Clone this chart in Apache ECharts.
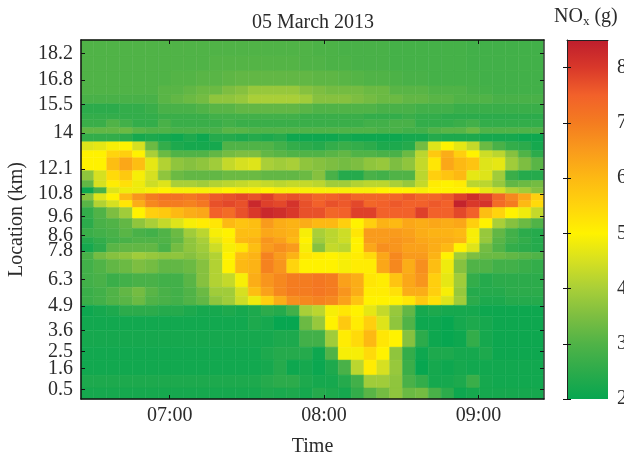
<!DOCTYPE html>
<html><head><meta charset="utf-8">
<style>html,body{margin:0;padding:0;background:#fff}#c{width:624px;height:456px}</style>
<script src="https://cdn.jsdelivr.net/npm/echarts@6/dist/echarts.min.js"></script>
</head><body><div id="c"></div>
<script>
const firstMinute = 385.5, stepMinutes = 5;
const timeTicks = [420, 480, 540];
const locationTicks = [0.5,1.6,2.5,3.6,4.9,6.3,7.8,8.6,9.6,10.8,12.1,14,15.5,16.8,18.2];
const colorTicks = [2,3,4,5,6,7,8];
const colorMin = 2, colorMax = 8.5;
const colorStops = ['#07a650','#2cab4b','#50b347','#7dbe41','#a9cf38','#d6e021','#fff200','#ffd40d','#fdb913','#f99b1c','#f47c20','#f2612a','#d9382a','#be1e2d'];
// row edges in km, from the top of the plot downward
const rowEdges = [18.9,18.06,17.27,16.48,16.01,15.54,15.01,14.70,14.28,13.96,13.54,13.07,12.70,12.02,11.50,11.13,10.81,10.45,10.08,9.50,8.98,8.50,8.19,7.72,7.35,6.61,5.88,5.41,4.93,4.36,3.62,2.73,2.05,1.26,0.58,0];
const noxRows = [
[3.0,3.0,3.0,3.0,3.0,3.0,3.0,3.0,3.0,3.0,3.0,3.0,3.0,3.0,3.0,3.0,3.0,3.0,2.95,2.95,2.9,2.9,2.9,2.9,2.85,2.85,2.85,2.85,2.85,2.85,2.8,2.8,2.8,2.8,2.8,2.8],
[3.0,3.0,3.0,3.0,3.0,3.0,3.0,3.0,3.0,3.0,3.05,3.05,3.05,3.05,3.05,3.05,3.05,3.0,3.0,2.95,2.95,2.9,2.9,2.9,2.85,2.85,2.85,2.85,2.85,2.85,2.8,2.8,2.8,2.8,2.8,2.8],
[3.0,3.0,3.0,3.0,3.0,3.0,3.0,3.05,3.05,3.1,3.1,3.15,3.2,3.2,3.2,3.2,3.2,3.2,3.15,3.15,3.1,3.05,3.0,3.0,2.95,2.9,2.9,2.85,2.85,2.85,2.85,2.8,2.8,2.8,2.8,2.8],
[3.0,3.0,3.0,3.0,3.0,3.0,3.1,3.1,3.2,3.3,3.3,3.5,3.6,3.8,3.8,3.8,3.8,3.6,3.5,3.4,3.4,3.4,3.3,3.3,3.1,3.1,3.1,3.0,3.0,3.0,2.9,2.85,2.8,2.8,2.8,2.8],
[2.9,2.9,2.9,2.9,2.9,2.9,3.1,3.2,3.3,3.4,3.7,3.7,3.8,4.0,4.0,4.0,4.0,3.9,3.6,3.6,3.6,3.5,3.4,3.3,3.3,3.2,3.2,3.1,3.1,3.0,3.0,3.0,2.9,2.9,2.9,2.9],
[2.5,2.5,2.5,2.6,2.6,2.7,2.9,2.9,2.9,3.0,3.1,3.1,3.2,3.2,3.2,3.2,3.2,3.1,3.0,3.0,3.0,3.0,3.0,2.9,2.9,2.9,2.8,2.8,2.8,2.7,2.7,2.7,2.7,2.7,2.7,2.7],
[2.6,2.6,2.6,2.6,2.6,2.6,2.7,2.7,2.7,2.7,2.8,2.8,2.8,2.8,2.8,2.8,2.8,2.7,2.7,2.7,2.7,2.7,2.6,2.6,2.6,2.7,2.6,2.6,2.5,2.5,2.5,2.5,2.5,2.5,2.5,2.5],
[2.7,2.7,3.0,2.8,2.6,2.6,2.9,2.7,2.7,2.7,2.7,2.8,2.7,2.7,2.7,2.7,2.7,2.7,2.7,2.7,2.7,2.7,2.8,2.8,2.9,2.9,2.6,2.6,2.6,2.7,2.8,2.6,2.6,2.6,2.6,2.6],
[3.2,3.2,3.2,3.3,3.1,3.0,3.0,2.9,2.9,2.9,2.9,3.1,3.1,3.0,3.0,3.0,3.0,3.0,3.0,3.0,3.0,3.0,3.0,2.9,2.9,2.8,2.8,3.0,3.1,3.1,3.3,3.0,3.0,3.0,3.0,3.0],
[2.6,2.6,2.6,2.5,2.2,2.3,2.2,2.1,2.3,2.1,2.4,2.4,2.3,2.4,2.3,2.4,2.1,2.1,2.1,2.1,2.2,2.1,2.1,2.1,2.1,2.2,2.2,2.4,2.3,2.3,2.3,2.2,2.2,2.2,2.1,2.1],
[4.6,4.7,4.9,5.0,4.5,3.3,2.6,2.3,2.2,2.2,2.2,3.0,3.0,3.0,3.0,2.8,2.6,2.5,2.4,2.6,2.7,2.6,2.5,2.3,2.3,2.4,3.4,4.6,5.0,4.7,4.3,3.3,2.9,2.6,2.5,2.2],
[5.0,5.0,5.5,5.6,5.0,4.0,3.3,3.0,3.0,3.0,3.2,3.4,3.5,3.5,3.2,3.1,3.0,3.0,3.0,3.1,3.2,3.0,3.0,2.9,2.9,3.3,4.2,5.7,6.2,5.6,5.0,4.4,4.2,3.6,3.0,2.5],
[5.0,5.0,5.9,6.3,5.9,4.7,4.1,3.7,3.6,3.7,3.9,4.3,4.5,4.6,4.0,3.9,4.0,3.7,3.6,3.5,3.4,3.5,3.7,3.8,3.5,3.7,4.3,5.2,6.3,6.0,5.8,4.6,4.7,3.9,3.5,3.1],
[3.7,4.5,5.4,5.7,4.9,4.5,3.7,3.3,3.2,3.2,3.2,3.3,3.3,3.3,3.2,3.2,3.2,3.3,3.6,2.9,2.4,2.4,2.9,2.8,3.0,3.0,4.2,5.6,5.8,6.0,4.7,4.6,3.9,2.7,2.4,2.4],
[3.2,4.5,5.1,5.3,4.8,4.4,4.6,4.0,4.0,3.9,4.1,4.2,4.3,4.4,4.3,4.2,4.3,4.3,4.2,3.9,3.9,4.1,4.2,4.2,4.0,3.8,4.3,5.1,5.0,5.1,4.2,4.2,3.8,3.2,3.3,3.4],
[2.1,2.9,4.6,4.8,4.8,4.9,5.0,4.9,4.9,4.9,4.9,5.0,4.9,4.9,5.0,4.9,4.9,4.9,4.9,4.9,4.9,4.9,4.9,5.0,5.0,5.0,4.9,5.0,5.0,5.0,5.0,4.7,4.5,4.1,3.9,3.6],
[3.6,4.6,5.0,6.0,6.6,7.0,7.2,7.2,7.1,7.3,7.6,7.7,7.8,7.7,7.9,7.6,7.7,7.6,7.4,7.5,7.6,7.4,7.4,7.4,7.4,7.6,7.4,7.4,7.6,7.9,8.2,7.9,7.4,6.8,6.3,5.6],
[3.1,4.1,4.5,5.2,6.2,6.8,7.0,7.0,6.9,7.1,7.7,7.8,7.7,8.3,7.9,7.8,8.1,7.7,7.5,7.7,7.6,7.8,7.4,7.5,7.6,7.5,7.5,7.6,7.5,8.4,8.0,8.1,7.3,7.0,6.0,5.4],
[2.6,3.0,3.5,3.9,5.0,5.6,5.7,6.0,6.2,6.3,7.5,7.3,7.7,8.0,8.3,8.2,8.0,7.7,7.7,7.4,7.5,7.9,7.9,7.5,7.5,7.5,7.9,7.5,7.5,7.8,7.5,5.9,5.5,5.0,4.8,4.3],
[2.5,2.9,3.0,3.2,3.7,4.0,4.3,4.6,4.9,5.1,5.2,6.0,5.8,5.9,6.5,6.2,6.1,6.2,6.0,6.0,5.6,5.0,5.6,6.1,6.0,6.3,6.2,6.3,6.2,6.3,5.6,5.0,4.0,3.6,3.3,3.0],
[2.7,2.8,2.9,3.1,2.9,2.8,3.0,3.3,3.9,4.2,4.9,5.0,5.9,5.9,6.3,6.2,6.1,4.9,4.0,4.2,4.4,5.2,6.5,6.5,6.5,6.4,6.2,6.1,6.1,6.0,4.9,3.8,3.2,2.8,2.5,2.4],
[2.4,2.6,2.8,2.9,3.0,3.0,3.0,3.2,3.7,4.0,4.7,5.1,6.0,6.1,6.6,6.4,6.0,5.0,3.9,4.2,4.4,5.0,6.5,6.5,6.6,6.5,6.3,6.2,6.2,6.1,4.9,3.8,3.1,2.8,2.6,2.4],
[2.2,2.5,3.1,3.2,3.2,3.2,2.9,3.4,3.7,3.9,4.4,4.9,5.2,5.9,6.5,6.7,6.5,4.9,3.6,4.3,4.2,5.0,6.3,6.7,6.6,6.4,6.4,6.2,6.0,5.0,4.6,3.4,3.0,2.6,2.5,2.4],
[2.9,3.4,3.6,3.7,3.9,3.8,3.7,3.7,3.6,3.8,4.1,5.0,5.9,6.1,6.9,6.5,6.1,5.2,5.1,5.0,4.9,5.1,5.4,6.3,6.8,6.5,6.5,6.1,5.0,3.9,3.5,3.3,3.3,3.2,3.1,3.0],
[2.8,3.0,3.2,3.3,3.5,3.4,3.2,3.2,3.3,3.6,4.1,5.0,6.0,6.1,6.9,6.6,5.5,5.0,5.0,5.0,4.9,5.1,5.1,6.3,6.8,6.2,6.7,5.9,4.8,3.6,3.0,3.0,2.8,2.8,2.7,2.6],
[2.8,2.9,2.7,2.8,2.9,2.9,2.8,2.8,3.1,3.6,4.1,4.3,4.9,6.2,6.6,6.8,7.0,7.0,7.1,7.0,6.4,6.2,5.2,5.1,5.8,6.3,6.6,5.6,4.7,3.9,2.6,2.4,2.5,2.5,2.5,2.5],
[2.7,2.8,3.0,3.2,3.4,3.1,2.9,2.8,3.0,3.3,3.9,3.9,4.5,5.9,6.4,6.8,7.0,7.0,7.1,7.0,6.6,6.2,5.1,5.1,5.3,6.2,6.2,5.6,4.9,3.8,2.4,2.4,2.4,2.5,2.5,2.5],
[2.7,2.8,3.0,3.1,3.3,3.0,2.9,2.8,3.0,3.2,3.7,3.9,4.4,4.8,5.6,6.2,6.7,6.8,6.9,6.8,6.4,5.8,5.0,5.0,5.0,5.2,5.7,5.3,4.6,3.9,2.5,2.3,2.3,2.4,2.4,2.4],
[2.1,2.2,2.3,2.5,2.5,2.5,2.4,2.4,2.3,2.2,2.2,2.3,2.2,2.3,2.5,2.4,2.8,4.0,4.2,4.9,5.2,5.0,4.7,4.3,3.8,3.2,2.2,2.3,2.2,2.2,2.2,2.1,2.1,2.1,2.1,2.1],
[2.15,2.15,2.15,2.15,2.15,2.15,2.15,2.15,2.15,2.15,2.15,2.15,2.15,2.3,2.2,2.0,2.0,3.3,3.8,5.0,5.7,5.1,5.6,4.6,3.7,3.0,2.1,2.1,2.0,2.2,2.3,2.2,2.1,2.1,2.1,2.1],
[2.2,2.2,2.2,2.2,2.2,2.2,2.2,2.2,2.2,2.2,2.2,2.2,2.2,2.2,2.2,2.3,2.3,2.8,2.8,3.9,5.1,5.4,6.0,5.2,5.0,3.6,2.5,2.1,2.0,2.1,2.6,2.2,2.1,2.1,2.1,2.1],
[2.15,2.15,2.15,2.15,2.15,2.15,2.15,2.15,2.15,2.15,2.15,2.15,2.15,2.15,2.3,2.4,2.4,2.4,2.1,3.0,4.9,4.9,5.4,5.0,3.7,2.6,2.1,2.3,2.3,2.2,2.2,2.3,2.1,2.1,2.1,2.1],
[2.15,2.15,2.15,2.15,2.15,2.15,2.15,2.15,2.15,2.15,2.15,2.15,2.15,2.15,2.2,2.4,2.1,2.2,2.05,2.3,2.9,4.2,5.1,4.5,3.8,2.7,2.0,2.2,2.1,2.2,2.15,2.15,2.15,2.15,2.15,2.15],
[2.3,2.3,2.3,2.3,2.3,2.3,2.3,2.3,2.3,2.3,2.3,2.3,2.3,2.3,2.4,2.5,2.5,2.3,2.2,2.2,2.4,2.8,3.9,3.9,3.7,2.9,2.6,2.2,2.2,2.3,2.7,2.2,2.15,2.15,2.15,2.15],
[2.2,2.2,2.2,2.2,2.2,2.2,2.2,2.2,2.2,2.2,2.2,2.2,2.2,2.2,2.3,2.25,2.3,2.2,2.4,2.3,2.2,2.6,3.1,3.4,3.7,3.3,3.4,2.9,2.5,2.1,2.2,2.2,2.2,2.2,2.2,2.2]
];

const cells = [];
noxRows.forEach((row, r) => row.forEach((v, c) => {
  const t0 = firstMinute + c * stepMinutes;
  cells.push([t0, t0 + stepMinutes, rowEdges[r + 1], rowEdges[r], v]);
}));
const font = 'Liberation Serif';
const ink = '#2b2b2b';
const size = 20;
const pad = n => String(n).padStart(2, '0');
const mirrorTick = {show: true, inside: true, length: 4, lineStyle: {color: '#111', width: 1}};
const renderCell = (params, api) => {
  const a = api.coord([api.value(0), api.value(3)]);
  const b = api.coord([api.value(1), api.value(2)]);
  const color = api.visual('color');
  return {type: 'rect', shape: {x: a[0], y: a[1], width: b[0] - a[0], height: b[1] - a[1]},
    style: {fill: color, stroke: color, lineWidth: 0.5}};
};
const renderBar = (params, api) => {
  const a = api.coord([0, colorMax]);
  const b = api.coord([1, colorMin]);
  const stops = colorStops.map((color, i) => ({offset: i / (colorStops.length - 1), color}));
  return {type: 'rect', shape: {x: a[0], y: a[1], width: b[0] - a[0], height: b[1] - a[1]},
    style: {fill: new echarts.graphic.LinearGradient(0, 1, 0, 0, stops)}};
};
const chart = echarts.init(document.getElementById('c'), null, {renderer: 'canvas'});
chart.setOption({
  animation: false,
  textStyle: {fontFamily: font},
  grid: [
    {left: 81, top: 40, width: 463, height: 359, show: false, outerBoundsMode: 'none'},
    {left: 567, top: 40, width: 41, height: 359, show: false, outerBoundsMode: 'none'}
  ],
  xAxis: [
    {gridIndex: 0, type: 'value', position: 'bottom', min: firstMinute, max: firstMinute + 36 * stepMinutes, z: 10,
     splitLine: {show: false}, axisLine: {show: true, onZero: false, lineStyle: {color: '#111', width: 1.5}},
     axisTick: {...mirrorTick, customValues: timeTicks},
     axisLabel: {customValues: timeTicks, margin: 7, fontSize: size, fontFamily: font, color: ink,
       formatter: v => pad(Math.floor(v / 60)) + ':' + pad(v % 60)},
     name: 'Time', nameLocation: 'middle', nameGap: 38, nameTextStyle: {fontSize: size, fontFamily: font, color: ink}},
    {gridIndex: 0, type: 'value', position: 'top', min: firstMinute, max: firstMinute + 36 * stepMinutes, z: 10,
     splitLine: {show: false}, axisLine: {show: true, onZero: false, lineStyle: {color: '#111', width: 1.5}},
     axisTick: {...mirrorTick, customValues: timeTicks}, axisLabel: {show: false}},
    {gridIndex: 1, type: 'value', position: 'top', min: 0, max: 1, z: 10, splitLine: {show: false},
     axisLine: {show: true, onZero: false, lineStyle: {color: '#222', width: 1}}, axisTick: {show: false}, axisLabel: {show: false}}
  ],
  yAxis: [
    {gridIndex: 0, type: 'value', position: 'left', min: 0, max: 18.9, z: 10,
     splitLine: {show: false}, axisLine: {show: true, onZero: false, lineStyle: {color: '#111', width: 1.5}},
     axisTick: {...mirrorTick, customValues: locationTicks},
     axisLabel: {customValues: locationTicks, margin: 8, fontSize: size, fontFamily: font, color: ink, formatter: v => String(v)},
     name: 'Location (km)', nameLocation: 'middle', nameGap: 53, nameRotate: 90, nameTextStyle: {fontSize: size, fontFamily: font, color: ink}},
    {gridIndex: 0, type: 'value', position: 'right', min: 0, max: 18.9, z: 10,
     splitLine: {show: false}, axisLine: {show: true, onZero: false, lineStyle: {color: '#444', width: 1.5}},
     axisTick: {...mirrorTick, customValues: locationTicks}, axisLabel: {show: false}},
    {gridIndex: 1, type: 'value', position: 'right', min: colorMin, max: colorMax, z: 10,
     splitLine: {show: false}, axisLine: {show: false},
     axisTick: {...mirrorTick, customValues: colorTicks},
     axisLabel: {customValues: colorTicks, margin: 9, fontSize: size, fontFamily: font, color: ink}},
    {gridIndex: 1, type: 'value', position: 'left', min: colorMin, max: colorMax, z: 10,
     splitLine: {show: false}, axisLine: {show: true, onZero: false, lineStyle: {color: '#222', width: 1}},
     axisTick: {...mirrorTick, customValues: colorTicks}, axisLabel: {show: false}}
  ],
  visualMap: {
    type: 'continuous', min: colorMin, max: colorMax, seriesIndex: 0, dimension: 4, show: false,
    inRange: {color: colorStops}
  },
  title: [
    {text: '05 March 2013', left: 308, top: 8, textAlign: 'center', textStyle: {fontSize: size, fontWeight: 'normal', fontFamily: font, color: ink}},
    {text: 'NO{s|x} (g)', left: 549, top: 1, textStyle: {fontSize: size, fontWeight: 'normal', fontFamily: font, color: ink,
      rich: {s: {fontSize: 13, fontFamily: font, color: ink, verticalAlign: 'bottom', padding: [9, 0, 0, 0]}}}}
  ],
  series: [
    {type: 'custom', coordinateSystem: 'cartesian2d', xAxisIndex: 0, yAxisIndex: 0,
     encode: {x: [0, 1], y: [2, 3]}, data: cells, renderItem: renderCell},
    {type: 'custom', coordinateSystem: 'cartesian2d', xAxisIndex: 2, yAxisIndex: 2,
     encode: {x: [0, 1], y: [2, 3]}, data: [[0, 1, colorMin, colorMax]], renderItem: renderBar}
  ]
});
</script></body></html>
